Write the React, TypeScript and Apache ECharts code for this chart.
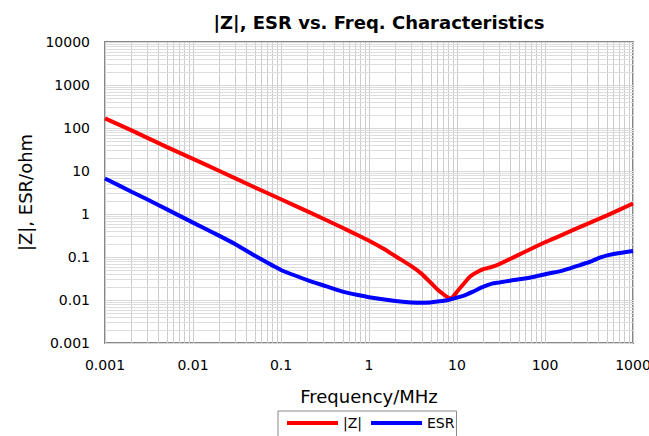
import React, { useEffect, useRef } from "react";
import * as echarts from "echarts";

const FONT = "DejaVu Sans";

// |Z| series (frequency in MHz, impedance in ohm)
const zFreq = [0.001, 0.002, 0.005, 0.01, 0.02, 0.05, 0.1, 0.2, 0.5, 0.8, 1, 1.5, 2, 3, 4, 5, 6, 7, 8, 8.5, 9, 10, 12, 14, 17, 20, 25, 30, 50, 100, 200, 500, 1000];
const zValues = [168, 88, 36.5, 19.2, 10.0, 4.2, 2.2, 1.15, 0.48, 0.3, 0.24, 0.152, 0.104, 0.062, 0.04, 0.0255, 0.0175, 0.0136, 0.0113, 0.0108, 0.0118, 0.0156, 0.0242, 0.0348, 0.0448, 0.052, 0.059, 0.068, 0.112, 0.22, 0.41, 0.92, 1.75];

// ESR series
const esrFreq = [0.001, 0.002, 0.003, 0.005, 0.01, 0.02, 0.03, 0.05, 0.1, 0.2, 0.3, 0.5, 0.8, 1, 2, 3, 4, 5, 6, 8, 10, 12, 15, 20, 25, 30, 40, 67, 113, 150, 192, 250, 328, 420, 600, 1000];
const esrValues = [6.7, 3.3, 2.2, 1.3, 0.63, 0.31, 0.2, 0.108, 0.05, 0.029, 0.022, 0.0157, 0.0127, 0.0116, 0.0095, 0.0088, 0.0086, 0.0088, 0.0092, 0.01, 0.0114, 0.0127, 0.0155, 0.0204, 0.024, 0.0255, 0.0281, 0.033, 0.0418, 0.047, 0.0546, 0.065, 0.0778, 0.097, 0.117, 0.138];

const xMin = 0.001;
const xMax = 1000;
const yMin = 0.001;
const yMax = 10000;

const minorMultipliers = [2, 3, 4, 5, 6, 7, 8, 9];

function minorValues(min: number, max: number): number[] {
  const out: number[] = [];
  const e0 = Math.round(Math.log10(min));
  const e1 = Math.round(Math.log10(max));
  for (let e = e0; e < e1; e++) {
    for (const m of minorMultipliers) out.push(m * Math.pow(10, e));
  }
  return out;
}

const fmt = (v: number) => {
  const e = Math.round(Math.log10(v));
  return e >= 0 ? String(Math.pow(10, e)) : Math.pow(10, e).toFixed(-e);
};

const snap = (p: number) => Math.round(p) + 0.5;

export default function App() {
  const ref = useRef<HTMLDivElement>(null);
  useEffect(() => {
    document.body.style.margin = "0";
    if (!ref.current) return;
    const chart = echarts.init(ref.current, null, { renderer: "svg" });
    const xMinor = minorValues(xMin, xMax);
    const yMinor = minorValues(yMin, yMax);
    const option: any = {
      animation: false,
      backgroundColor: "#ffffff",
      title: {
        text: "|Z|, ESR vs. Freq. Characteristics",
        left: 374,
        top: 8,
        textAlign: "center",
        textStyle: { fontFamily: FONT, fontSize: 18, fontWeight: "bold", color: "#000" },
      },
      grid: {
        left: 105,
        right: 16,
        top: 42,
        bottom: 93,
        show: true,
        borderColor: "#888888",
        borderWidth: 2,
        containLabel: false,
        outerBoundsMode: "none",
      },
      legend: {
        data: ["|Z|", "ESR"],
        left: 278,
        top: 411,
        icon: "rect",
        itemWidth: 51,
        itemHeight: 4,
        itemGap: 9,
        borderColor: "#888888",
        borderWidth: 1,
        padding: [5, 2, 10, 9],
        textStyle: { fontFamily: FONT, fontSize: 14, color: "#000" },
      },
      xAxis: {
        type: "log",
        logBase: 10,
        min: xMin,
        max: xMax,
        splitNumber: 6,
        name: "Frequency/MHz",
        nameLocation: "middle",
        nameGap: 44,
        nameTextStyle: { fontFamily: FONT, fontSize: 18, color: "#000" },
        axisLine: { show: false },
        axisTick: { show: false },
        axisLabel: { formatter: fmt, margin: 15, fontFamily: FONT, fontSize: 14, color: "#000" },
        splitLine: { show: true, lineStyle: { color: "#cccccc", width: 1 } },
      },
      yAxis: {
        type: "log",
        logBase: 10,
        min: yMin,
        max: yMax,
        splitNumber: 7,
        name: "|Z|, ESR/ohm",
        nameLocation: "middle",
        nameGap: 70,
        nameTextStyle: { fontFamily: FONT, fontSize: 18, color: "#000" },
        axisLine: { show: false },
        axisTick: { show: false },
        axisLabel: { formatter: fmt, margin: 15, fontFamily: FONT, fontSize: 14, color: "#000" },
        splitLine: { show: true, lineStyle: { color: "#d8d8d8", width: 1 } },
      },
      series: [
        {
          type: "custom",
          name: "vminor",
          silent: true,
          z: 1,
          encode: { x: 0, y: 1 },
          data: xMinor.map((v) => [v, 1]),
          renderItem: (_p: any, api: any) => {
            const v = api.value(0);
            const a = api.coord([v, yMin]);
            const b = api.coord([v, yMax]);
            const x = snap(a[0]);
            return {
              type: "line",
              shape: { x1: x, y1: a[1], x2: x, y2: b[1] },
              style: { stroke: "#cccccc", lineWidth: 1 },
            };
          },
        },
        {
          type: "custom",
          name: "hminor",
          silent: true,
          z: 1,
          encode: { x: 0, y: 1 },
          data: yMinor.map((v) => [1, v]),
          renderItem: (_p: any, api: any) => {
            const v = api.value(1);
            const a = api.coord([xMin, v]);
            const b = api.coord([xMax, v]);
            const y = snap(a[1]);
            return {
              type: "line",
              shape: { x1: a[0], y1: y, x2: b[0], y2: y },
              style: { stroke: "#dddddd", lineWidth: 1 },
            };
          },
        },
        {
          name: "|Z|",
          type: "line",
          z: 3,
          showSymbol: false,
          symbol: "none",
          smooth: 0.2,
          color: "#ff0000",
          lineStyle: { color: "#ff0000", width: 4 },
          data: zFreq.map((f, i) => [f, zValues[i]]),
        },
        {
          name: "ESR",
          type: "line",
          z: 3,
          showSymbol: false,
          symbol: "none",
          smooth: 0.2,
          color: "#0000ff",
          lineStyle: { color: "#0000ff", width: 4 },
          data: esrFreq.map((f, i) => [f, esrValues[i]]),
        },
      ],
    };
    chart.setOption(option);
    return () => chart.dispose();
  }, []);
  return <div ref={ref} style={{ width: 649, height: 436 }} />;
}
